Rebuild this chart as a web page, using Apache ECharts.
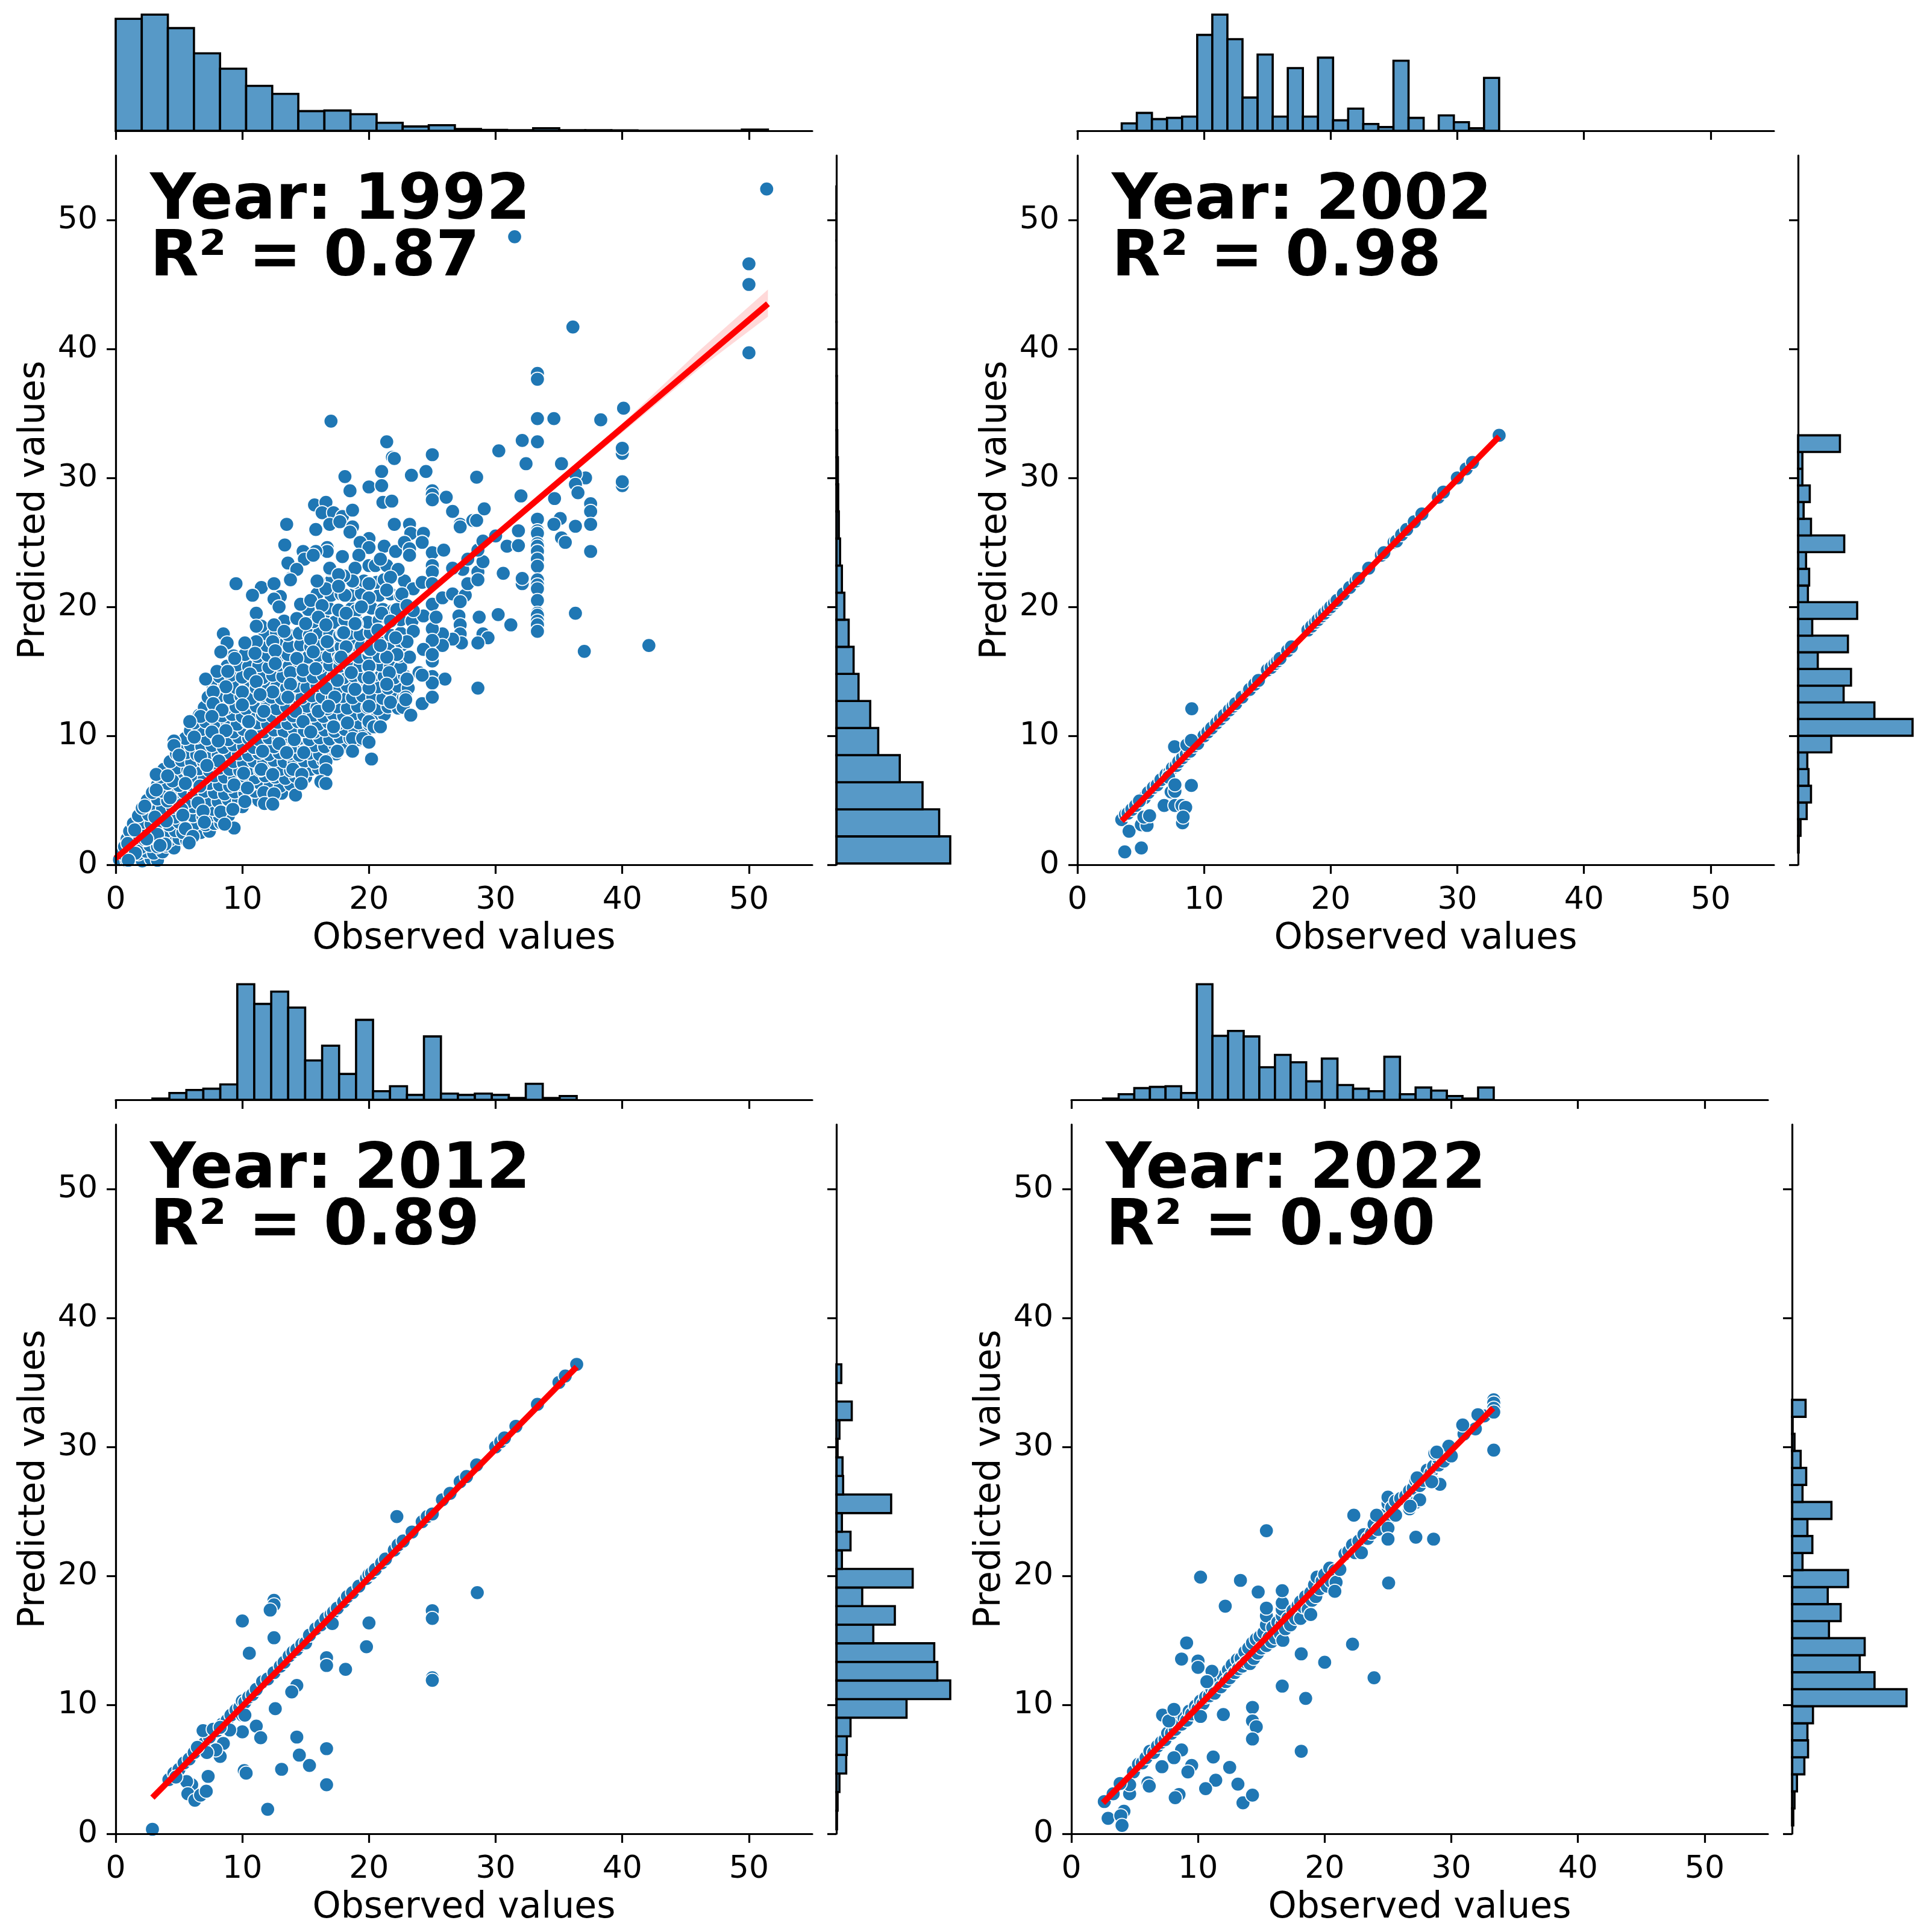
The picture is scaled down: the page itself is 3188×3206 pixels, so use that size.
<!DOCTYPE html>
<html><head><meta charset="utf-8">
<style>html,body{margin:0;padding:0;background:#fff}#c{width:3188px;height:3206px}</style>
<script src="https://cdn.jsdelivr.net/npm/echarts@6/dist/echarts.min.js"></script>
</head><body><div id="c"></div>
<script>
const tickValues=[0,10,20,30,40,50];
const xLabel='Observed values', yLabel='Predicted values';
const years=['Year: 1992','Year: 2002','Year: 2012','Year: 2022'];
const r2s=['R² = 0.87','R² = 0.98','R² = 0.89','R² = 0.90'];

// top marginal histograms: first edge, bin width, bar heights
const topStart=[0.0,3.5,2.9,2.5], topWidth=[2.06,1.192,1.34,1.234];
const top1992=[182,189,167,126,101,73,60,32,33,27,13,7,9,3,1.5,1,4,1,1,0.7,0.3,0.3,0.3,0.3,2];
const top2002=[12,29,19,21,23,156,189,149,54,124,23,102,23,119,17,36,11,6,114,21,0,25,14,4,86];
const top2012=[2,11,16,18,25,188,156,176,150,64,88,42,130,14,22,8,103,10,8,10,8,3,26,3,6];
const top2022=[2,9,19,21,22,11,188,104,112,103,53,73,61,30,67,24,18,14,70,9,20,15,6,2,20];
// right marginal histograms (bottom bin first)
const rightStart=[0.1,0.95,0.35,0.65], rightWidth=[2.1,1.294,1.442,1.32];
const right1992=[185,167,140,103,68,55,36,28,20,13,9,6,4,3,2.5,1.5,1,0.8,0.5,0.4,0.3,0.2,0.2,0.1,0.2];
const right2002=[1,4,14,21,17,15,54,186,124,74,86,32,81,23,96,16,18,13,75,21,9,19,7,7,68];
const right2012=[1,2,5,16,17,23,114,185,164,159,60,95,42,124,9,23,9,89,11,10,2,5,25,0,8];
const right2022=[2,4,8,20,26,25,34,186,134,110,118,60,79,58,91,17,33,25,64,17,23,14,4,1,22];

// regression lines and confidence band
const line1992=[[0,0.5],[51.5,43.5]], line2002=[[3.5,3.4],[33.3,33.2]], line2012=[[2.9,2.8],[36.4,36.2]], line2022=[[2.5,2.4],[33.3,33]];
const band1992=[[0,0.3,0.7],[10,8.75,8.95],[20,17.1,17.3],[30,25.35,25.75],[40,33.5,34.2],[46,38.4,39.8],[51.5,42.5,44.6]];

// dense body of the 1992 cloud (estimated)
const cloud1992=[
[.3,.4],[.9,.3],[1.5,.5],[2.1,.3],[2.8,.45],[3.3,.35],[.5,.9],[1.1,1],[1.8,.85],[2.4,1.05],[3,.9],[3.7,1],
[.7,1.4],[1.3,1.5],[2,1.35],[2.7,1.5],[3.3,1.4],[4,1.45],[4.6,1.3],[.9,2],[1.6,2.1],[2.3,1.95],[3,2.1],[3.6,2],[4.3,1.95],[5,2.05],[5.6,1.9],
[1.1,2.6],[1.9,2.7],[2.5,2.55],[3.3,2.7],[4,2.6],[4.7,2.65],[5.3,2.5],[6,2.6],[6.7,2.5],[7.4,2.6],
[1.4,3.2],[2.2,3.3],[2.8,3.15],[3.6,3.25],[4.2,3.1],[5,3.3],[5.7,3.15],[6.3,3.2],[7.1,3.1],[7.8,3.2],[8.3,3.25],
[1.8,3.8],[2.6,3.9],[3.3,3.75],[4.1,3.85],[4.7,3.7],[5.5,3.9],[6.1,3.8],[6.9,3.7],[7.5,3.85],[8.2,3.75],[8.9,3.8],
[2.1,4.4],[2.9,4.5],[3.7,4.35],[4.5,4.45],[5.3,4.3],[6.1,4.5],[6.9,4.4],[7.7,4.3],[8.5,4.45],[9.3,4.35],[10,4.5],
[2.5,5],[3.3,5.1],[4.1,4.95],[4.9,5.05],[5.7,4.9],[6.5,5.1],[7.3,5],[8.1,4.9],[8.9,5.05],[9.7,4.95],[10.5,5.1],[11.3,5],[12,5.1],
[2.9,5.6],[3.7,5.7],[4.6,5.55],[5.4,5.65],[6.2,5.5],[7,5.7],[7.8,5.6],[8.6,5.5],[9.4,5.65],[10.2,5.55],[11,5.7],[11.8,5.6],[12.6,5.7],[13.1,5.55],
[3.3,6.2],[4.1,6.3],[5,6.15],[5.8,6.25],[6.6,6.1],[7.4,6.3],[8.2,6.2],[9,6.1],[9.8,6.25],[10.6,6.15],[11.4,6.3],[12.2,6.2],[13,6.1],[13.8,6.25],
[3.5,6.8],[4.4,6.9],[5.3,6.75],[6.2,6.85],[7,6.7],[7.8,6.9],[8.6,6.8],[9.4,6.7],[10.2,6.85],[11,6.75],[11.8,6.9],[12.6,6.8],[13.4,6.7],[14.2,6.85],[15,6.8],
[3.8,7.4],[4.8,7.5],[5.7,7.35],[6.6,7.45],[7.4,7.3],[8.2,7.5],[9,7.4],[9.8,7.3],[10.6,7.45],[11.4,7.35],[12.2,7.5],[13,7.4],[13.8,7.3],[14.6,7.45],[15.4,7.4],[16,7.5],
[4.3,8],[5.2,8.1],[6,7.95],[6.9,8.05],[7.7,7.9],[8.5,8.1],[9.3,8],[10.1,7.9],[10.9,8.05],[11.7,7.95],[12.5,8.1],[13.3,8],[14.1,7.9],[14.9,8.05],[15.7,7.95],[16.4,8.1],
[4.8,8.6],[5.6,8.7],[6.4,8.55],[7.3,8.65],[8.1,8.5],[8.9,8.7],[9.7,8.6],[10.5,8.5],[11.3,8.65],[12.1,8.55],[12.9,8.7],[13.7,8.6],[14.5,8.5],[15.3,8.65],[16.1,8.55],[16.9,8.7],[17.4,8.6],
[5,9.2],[5.9,9.3],[6.8,9.15],[7.6,9.25],[8.5,9.1],[9.3,9.3],[10.1,9.2],[10.9,9.1],[11.7,9.25],[12.5,9.15],[13.3,9.3],[14.1,9.2],[14.9,9.1],[15.7,9.25],[16.5,9.15],[17.3,9.3],[18.1,9.2],
[5.5,9.8],[6.4,9.9],[7.2,9.75],[8,9.85],[8.9,9.7],[9.7,9.9],[10.5,9.8],[11.3,9.7],[12.1,9.85],[12.9,9.75],[13.7,9.9],[14.5,9.8],[15.3,9.7],[16.1,9.85],[16.9,9.75],[17.7,9.9],[18.5,9.8],[19.3,9.7],
[5.9,10.4],[6.8,10.5],[7.6,10.35],[8.4,10.45],[9.3,10.3],[10.1,10.5],[10.9,10.4],[11.7,10.3],[12.5,10.45],[13.3,10.35],[14.1,10.5],[14.9,10.4],[15.7,10.3],[16.5,10.45],[17.3,10.35],[18.1,10.5],[18.9,10.4],[19.7,10.3],
[6.2,11],[7.1,11.1],[8,10.95],[8.8,11.05],[9.6,10.9],[10.4,11.1],[11.2,11],[12,10.9],[12.8,11.05],[13.6,10.95],[14.4,11.1],[15.2,11],[16,10.9],[16.8,11.05],[17.6,10.95],[18.4,11.1],[19.2,11],[20,10.9],[20.8,11.05],
[6.6,11.6],[7.5,11.7],[8.4,11.55],[9.2,11.65],[10,11.5],[10.8,11.7],[11.6,11.6],[12.4,11.5],[13.2,11.65],[14,11.55],[14.8,11.7],[15.6,11.6],[16.4,11.5],[17.2,11.65],[18,11.55],[18.8,11.7],[19.6,11.6],[20.4,11.5],[21.2,11.65],
[7,12.2],[7.8,12.3],[8.7,12.15],[9.5,12.25],[10.3,12.1],[11.1,12.3],[11.9,12.2],[12.7,12.1],[13.5,12.25],[14.3,12.15],[15.1,12.3],[15.9,12.2],[16.7,12.1],[17.5,12.25],[18.3,12.15],[19.1,12.3],[19.9,12.2],[20.7,12.1],[21.5,12.25],[22.3,12.15],
[7.3,13],[8.2,13.1],[9,12.95],[9.9,13.05],[10.7,12.9],[11.5,13.1],[12.3,13],[13.1,12.9],[13.9,13.05],[14.7,12.95],[15.5,13.1],[16.3,13],[17.1,12.9],[17.9,13.05],[18.7,12.95],[19.5,13.1],[20.3,13],[21.1,12.9],[21.9,13.05],[22.7,12.9],
[7.7,13.8],[8.6,13.9],[9.5,13.75],[10.3,13.85],[11.1,13.7],[11.9,13.9],[12.7,13.8],[13.5,13.7],[14.3,13.85],[15.1,13.75],[15.9,13.9],[16.7,13.8],[17.5,13.7],[18.3,13.85],[19.1,13.75],[19.9,13.9],[20.7,13.8],[21.5,13.7],[22.3,13.85],[23.1,13.7],
[8.2,14.6],[9.1,14.7],[10,14.55],[10.8,14.65],[11.6,14.5],[12.4,14.7],[13.2,14.6],[14,14.5],[14.8,14.65],[15.6,14.55],[16.4,14.7],[17.2,14.6],[18,14.5],[18.8,14.65],[19.6,14.55],[20.4,14.7],[21.2,14.6],[22,14.5],[22.8,14.65],
[8.8,15.4],[9.6,15.5],[10.5,15.35],[11.3,15.45],[12.1,15.3],[12.9,15.5],[13.7,15.4],[14.5,15.3],[15.3,15.45],[16.1,15.35],[16.9,15.5],[17.7,15.4],[18.5,15.3],[19.3,15.45],[20.1,15.35],[20.9,15.5],[21.7,15.4],[22.5,15.3],
[9.3,16.2],[10.2,16.3],[11.2,16.15],[12,16.25],[12.8,16.1],[13.6,16.3],[14.4,16.2],[15.2,16.1],[16,16.25],[16.8,16.15],[17.6,16.3],[18.4,16.2],[19.2,16.1],[20,16.25],[20.8,16.15],[21.6,16.3],[22.4,16.2],[23.2,16.1],
[11.9,17],[12.8,17.1],[13.7,16.95],[14.6,17.05],[15.4,16.9],[16.2,17.1],[17,17],[17.8,16.9],[18.6,17.05],[19.4,16.95],[20.2,17.1],[21,17],[21.8,16.9],[22.6,17.05],
[11.8,17.9],[12.7,18],[13.6,17.85],[14.5,17.95],[15.3,17.8],[16.1,18],[16.9,17.9],[17.7,17.8],[18.5,17.95],[19.3,17.85],[20.1,18],[20.9,17.9],[21.7,17.8],[22.5,17.95],
[13.3,18.9],[14.7,19],[15.6,18.85],[16.5,18.95],[17.3,18.8],[18.1,19],[19,18.9],[19.9,18.8],[20.8,18.95],[21.6,18.85],[22.5,19],[23.4,18.9],
[15.2,19.8],[16.8,19.9],[17.6,19.75],[18.6,19.85],[19,19.7],[20.2,19.9],[21.1,19.8],[21.9,19.7],[22.8,19.85],
[15.9,21],[17,20.9],[17.8,21],[18.6,20.9],[19.4,21.05],[20.8,20.9],[21.7,21],[22.5,20.85],
[17,22],[18.9,21.9],[19.6,22],[20.6,21.9],[21.2,22.1],[22.8,22]];

// individually readable 1992 markers
const points1992=[
[9.5,21.8],[11.5,21.5],[12.5,21.8],[10.8,20.9],[13,20.8],[12.5,20.6],[12.9,20],[13.8,22.2],[14.3,22.9],[11.1,19.5],[14.6,20.2],[15.4,20.5],[16,22],[16.6,21.4],[16.9,22.9],[16.3,20.1],[18.1,20.9],[18.7,22],[18.1,22.4],[20,21.8],[21.7,22.3],[21.4,21.3],[20,20.7],[19.4,20],[18.2,19.5],[16,19.2],[14.3,19.1],[11.5,18.5],[12.5,18.6],[11.1,18.5],[13.3,18.1],[15,18.7],[16.6,18.6],[19,18.7],[17.9,18],[15.4,17.5],[8.5,17.9],[8.8,17.2],[12.4,17.3],[11.1,17.3],[10.2,17.2],[16.7,17.3],[18.2,16.8],[20.8,18.2],[22.2,19.8],[22.5,17.3],[8.3,16.5],[11,16.4],[12.6,16.6],[15.6,16.5],[9.4,16],[14.3,16],[17.7,16],[20,16.7],[21.4,16.1],[22.2,16.3],[12.6,15.6],[8,15],[8.85,15],[13.8,14.9],[14.8,15.1],[15.8,15.2],[20,15.3],[7.1,14.4],[10.6,14.8],[11.1,14.2],[18.6,14.9],[21.6,14.9],[21.4,14],[23,14.4],[17.5,14.3],[12.4,13.4],[8.7,13.8],[10,13.4],[13.8,14],[16.6,13.7],[18.9,13.6],[20,13.7],[7.7,13.4],[11.4,13.2],[13.6,13],[17.3,13],[21.7,12.6],[22.9,13],[22.7,12.2],[7.7,12.5],[8.4,12],[10,12.4],[11.7,11.9],[14.2,11.9],[16,11.9],[16.8,12.3],[20,12.3],[18.3,11],[6.7,11.5],[5.85,11.1],[7.6,11.5],[10.5,11.1],[14.8,11.1],[20,11.1],[20.4,10.7],[20.9,10.7],[17.2,10.7],[8.7,10.4],[7.6,10.3],[6.2,9.9],[10.7,10],[15.4,10.3],[8.1,9.6],[4.6,9.6],[4.6,9.25],[14.1,9.7],[12.9,9.4],[18.7,9.8],[19.5,9.8],[20,9.5],[18.7,8.8],[17.5,8.8],[20.2,8.2],[16.6,8],[16.6,7.35],[11.6,8.8],[13.5,8.7],[14.85,8.7],[6.7,8.4],[5,8.5],[8.15,8.05],[7.2,7.7],[5.85,7.2],[4.5,6.5],[3.2,7],[4.1,6.9],[11.5,7.4],[12.4,7],[14,7.4],[14.7,7],[16.2,6.45],[16.6,6.3],[14.2,5.4],[14.65,6.3],[10.1,7.1],[9.35,6.2],[10.4,5.95],[5.5,6.3],[3.2,5.8],[6.65,6.1],[4.3,5.2],[6.5,4.8],[11.7,5.6],[12.5,5.5],[11.75,4.75],[12.4,4.7],[10.2,4.9],[2.3,4.55],[3.1,3.7],[5.2,4.3],[4,3.4],[5.3,3.85],[6.9,4.15],[8.3,4.1],[9.25,4.3],[7,3.3],[9.35,2.85],[8.6,3.15],[5.5,2.8],[3.3,2.35],[1.5,2.7],[6.1,2.2],[5.8,1.7],[3.9,1.6],[3.5,1.5],[.95,1.65],[1.55,.9],[1,.35],[2.45,2],
[17,34.4],[21.4,32.8],[21.85,31.6],[22,31.5],[25,31.8],[18.1,30.1],[21,30.5],[23.35,30.2],[24.5,30.5],[20,29.3],[21,29.4],[18.5,29],[28.5,30.05],[30.25,32.1],[32.1,32.9],[33.3,34.6],[33.3,32.8],[32.4,31.1],[25,29],[25,28.7],[25,28.3],[26.1,28.5],[26.6,27.4],[27.2,26.4],[27.2,26.2],[28.2,26.7],[28.5,26.7],[29.1,27.6],[32,28.6],[21.1,28.1],[21.8,28.2],[15.7,27.9],[16.6,28.1],[16.3,27.3],[17.2,27.3],[17.9,27],[18.7,27.5],[16.9,26.4],[17.7,26.6],[13.5,26.4],[15.8,26],[18.7,26.2],[18.5,25.8],[22,26.4],[23.2,26.4],[23.3,25.7],[24.3,25.7],[20,25.3],[19.3,25],[20,24.6],[21.2,24.7],[13.35,24.8],[16.7,24.6],[16.7,24.3],[15.8,24.3],[14.8,24.3],[14.9,23.7],[15.6,24],[17.9,23.9],[19.2,24],[22.1,24.3],[22.8,25],[23.2,24.5],[23.2,24],[24.2,25],[25,24.2],[25.9,24.4],[25,23.2],[25,22.7],[13.6,23.4],[14.3,22.9],[13.8,22.1],[16.9,23],[18.9,23],[20,23.2],[20.5,23.2],[21.4,23.2],[22.3,22.9],[20.9,23.7],[21.7,22.3],[18.7,22],[18,22.4],[17.6,22.5],[15.9,22],[17.6,21.6],[21.4,21.3],[23.5,21.4],[22.6,21],[24.2,21.9],[25,21.8],[25,20.2],[25.8,20.7],[26.6,21],[27.6,20.9],[27.2,20.4],[27.8,21.8],[28.6,22.7],[28.6,22.1],[29,23.5],[27.4,22.9],[26.6,23],[27.8,23.7],[28.6,24.4],[29,25.1],[30,25.5],[30.9,24.7],[31.8,24.75],[31.8,25.9],[30.6,22.6],[32.1,21.8],[32.1,22.2],
[33.3,38.1],[33.3,37.65],[34.6,34.6],[38.3,34.5],[40.1,35.4],[35.2,31.1],[40,31.9],[40,32.3],[37.1,30],[36.3,30.3],[36.3,29.5],[36.5,28.85],[34.65,28.4],[40,29.4],[40,29.7],[37.5,28],[37.5,27.4],[37.5,26.4],[35.1,26.85],[34.6,26.4],[36.3,26.25],[35.2,25.35],[35.5,25],[37.5,24.3],[33.3,26.8],[33.3,25.9],[33.3,25.7],[33.3,24.9],[33.3,24.7],[33.3,24.3],[33.3,23.7],[33.3,23.15],[33.3,22.1],[33.3,21.7],[33.3,21.4],[33.3,20.5],[33.3,19.5],[33.3,19.35],[33.3,18.9],[33.3,18.6],[33.3,18.1],[36.3,19.5],[37,16.55],[42.1,17],[30.2,19.4],[31.2,18.6],[28.7,19.2],[27.1,19.3],[27.2,18.6],[27.2,17.9],[27.3,17.2],[26.6,17.5],[25.8,17.9],[25.8,17],[29,17.9],[29.4,17.6],[28.6,17.2],[25,18.3],[25,17.4],[23.5,18.1],[24.3,19.3],[25.3,19.2],[23,17.3],[22.1,17.6],[24.3,16.7],[25,15.8],[25,14.6],[23.95,14.9],[26,14.4],[23,14.4],[28.6,13.7],[22.2,16.3],[21.4,16.1],[20,15.4],[20,14.5],[18.9,18.7],[18,18],[16.7,17.3],[18.2,16.9],[17.8,16.1],[21,19.5],[22.2,19.8],[21.7,18.9],[23.5,19.7],[23,20.1],[20.7,18.2],[20.1,16.7],[20.9,17],[23.3,11.6],[22.9,12.8],[24.2,12.5],[25,13],[25,14.1],[24.2,14.7],[25,16.3],
[51.4,52.4],[31.5,48.7],[50,46.6],[50,45],[50,39.7],[36.1,41.7]];

const onLine2002=[[3.5,3.5],[3.8,3.9],[4,4],[4.3,4.3],[4.6,4.6],[5,5],[5.3,5.2],[5.6,5.6],[6,6],[6.3,6.2],[6.6,6.6],[7,7],[7.3,7.2],[7.5,7.5],[7.8,7.7],[8,8],[8.3,8.3],[8.6,8.6],[8.9,8.8],[9.2,9.2],[9.5,9.4],[10,10],[10.3,10.3],[10.6,10.6],[11,11],[11.3,11.3],[11.6,11.6],[12,12],[12.3,12.3],[12.5,12.5],[13,13],[13.5,13.5],[13.6,13.6],[14,14],[14.3,14.3],[15,15.1],[15.3,15.3],[15.6,15.6],[15.8,15.8],[16,16],[16.6,16.6],[16.9,16.9],[18.2,18.2],[18.5,18.5],[18.8,18.8],[19,19],[19.3,19.3],[19.5,19.5],[19.8,19.8],[20,20],[20.3,20.3],[20.5,20.5],[21,21],[21.5,21.5],[22,22],[22.2,22.2],[23,23],[24,24],[24.2,24.2],[25,25],[25.2,25.1],[25.6,25.6],[26,26],[26.6,26.6],[27.2,27.2],[28.5,28.5],[28.9,28.9],[30,30],[30.7,30.7],[31.2,31.2],[33.3,33.3]];
const off2002=[[9.03,12.1],[7.67,9.15],[8.64,9.3],[9,9.65],[9,6.15],[7.2,6.8],[7.4,5.65],[7.7,5.7],[7.7,6.2],[6.85,4.6],[7.7,4.6],[8.25,4.6],[8.55,4.45],[8.3,3.25],[8.35,3.7],[4.08,2.6],[3.74,1],[5.05,1.3],[5.05,3.1],[5.5,3.05],[5.25,3.7],[5.7,3.8],[4.9,4.95]];

const onLine2012=[[4.2,4.2],[4.6,4.7],[5,5],[5.4,5.5],[5.8,5.8],[6.2,6.3],[6.6,6.7],[7,7],[7.4,7.5],[8,8],[8.4,8.5],[8.8,8.8],[9.1,9.2],[9.5,9.6],[9.8,9.8],[10,10.3],[10.2,10.2],[10.5,10.6],[10.8,10.8],[11.1,11.2],[11.6,11.8],[12,12],[12.5,12.5],[13,13],[13.3,13.3],[13.7,13.8],[14,14.1],[14.3,14.3],[14.7,14.7],[15,14.8],[15.3,15.4],[15.8,15.9],[16.2,16.2],[16.6,16.7],[17,17],[17.2,17.2],[17.5,17.5],[18,18],[18.3,18.4],[18.7,18.7],[19.2,19.2],[19.8,19.8],[20,20.1],[20.2,20.2],[20.5,20.5],[21,21],[21.3,21.3],[22,22],[22.3,22.4],[22.7,22.7],[23.4,23.4],[24.2,24.2],[24.6,24.6],[25,24.8],[25.8,25.9],[26.4,26.4],[27.2,27.3],[27.7,27.7],[28.5,28.6],[30,30],[30.4,30.4],[30.7,30.7],[31.6,31.6],[33.3,33.3],[35,35],[35.5,35.5],[36.4,36.4]];
const off2012=[[2.9,.35],[10,16.5],[10.55,14],[12.5,18.1],[12.5,17.75],[12.2,17.35],[12.5,15.2],[12.6,9.7],[14.3,11.5],[13.9,11],[10,9.2],[10.2,9.2],[10,7.9],[11.1,8.35],[11.45,7.45],[14.3,7.5],[14.5,6.1],[13.1,5],[15.3,5.3],[10.15,4.9],[10.3,4.7],[16.65,6.6],[16.65,3.8],[12,1.9],[16.65,13.65],[16.65,13.05],[17.1,16.3],[18.15,12.75],[20,16.35],[19.8,14.5],[25,17.3],[25,16.7],[25,12.1],[25,11.9],[28.55,18.7],[22.2,24.6],[6.9,8],[7.7,8.1],[9,8.05],[8.25,8.25],[8.5,7],[8.25,6],[7.9,6.5],[7.2,6.3],[7.3,4.45],[6.45,6.7],[6,3.8],[5.6,4.05],[5.7,3.1],[6.25,2.6],[6.7,3],[7.15,3.3],[4.75,4.4]];

const near2022=[[4.9,4.8],[5.3,5.4],[5.6,5.5],[5.9,5.9],[6.2,6.4],[6.5,6.3],[6.8,6.8],[7.1,7.1],[7.4,7.3],[7.6,7.8],[7.9,7.8],[8.2,8.1],[8.4,8.6],[8.7,8.5],[8.9,9],[9.1,8.8],[9.3,9.5],[9.5,9.3],[9.8,9.9],[10,9.7],[10.2,10.3],[10.4,10.1],[10.6,10.6],[10.9,10.7],[11.1,11.2],[11.3,10.9],[11.6,11.7],[11.8,11.4],[12,12.2],[12.2,11.8],[12.4,12.7],[12.5,12.1],[12.7,13.1],[12.9,12.5],[13.1,13.5],[13.2,12.8],[13.4,13.6],[13.5,13],[13.7,14.1],[13.8,13.3],[14,14.4],[14.1,13.2],[14.3,14.8],[14.4,13.6],[14.6,15.1],[14.7,14],[14.9,15.3],[15,14.4],[15.2,15.6],[15.4,14.6],[15.4,16.2],[15.4,16.9],[15.6,15.2],[15.8,14.9],[15.9,16],[16.1,15.2],[16.3,16.4],[16.5,15.5],[16.65,16.3],[16.65,16.9],[16.65,17.4],[16.65,17.9],[16.7,15],[16.9,15.9],[17.1,16.7],[17.3,16.2],[17.5,17.3],[17.7,16.7],[17.9,17.7],[18.1,16.7],[18.1,18],[18.3,17.6],[18.5,18.4],[18.7,17.4],[18.9,18.7],[19,18.1],[19.2,19.3],[19.3,18.4],[19.4,19.9],[19.6,19],[19.8,19.6],[20,20.1],[20.2,19.2],[20.4,20.6],[20.5,19.6],[20.8,20.4],[20.9,19.5],[21.2,20.5],[21.6,21.7],[21.9,21.9],[22.2,22.4],[22.4,21.8],[22.7,22.7],[22.9,21.8],[23.1,23.2],[23.4,22.9],[23.7,23.3],[23.9,24],[24.2,23.6],[24.5,24.4],[24.8,24.2],[25,25],[25,24.4],[25,23.7],[25,25.6],[25,26.1],[25.3,25.3],[25.6,25.8],[25.6,24.7],[26,26],[26.4,26.2],[26.7,26.6],[26.7,25.2],[27,26.8],[27.2,27.4],[27.2,25.7],[27.5,27],[27.8,27.4],[28.1,28.2],[28.4,28],[28.6,28.5],[28.6,27.3],[29,28.6],[29,29.1],[28.7,29.5],[29.4,28.9],[30,29.3],[31,31],[31.9,31.4],[32.6,32.4]];
const off2022=[[15.4,23.5],[10.2,19.9],[13.35,19.65],[14.75,18.75],[12.15,17.65],[9.1,14.8],[8.7,13.55],[10,13.4],[10,12.9],[11.1,12.6],[10.7,11.8],[16.65,11.45],[20,13.3],[18.15,13.95],[22.2,14.7],[23.9,12.1],[18.5,10.5],[14.3,9.8],[14.3,8.75],[14.6,8.3],[14.3,7.35],[12,9.25],[10.2,9.1],[18.15,6.4],[25.05,19.45],[27.2,23],[28.6,22.85],[25,22.85],[33.35,29.75],[30.9,31.7],[32.1,32.5],[22.3,24.7],[24.1,24.7],[11.2,5.95],[12.5,5.15],[11.4,4.15],[10.6,3.5],[13.15,3.85],[13.55,2.4],[14.3,3],[9.5,5.3],[9.2,4.8],[8.5,3.05],[8.2,2.8],[8.7,6.5],[8.1,5.9],[7.15,5.2],[6.05,3.95],[6.15,3.7],[4.6,3.1],[4.6,3.8],[2.9,1.2],[4.15,1.75],[3.9,1.4],[4,.65],[2.6,2.5],[3.3,3.1],[3.85,3.9],[7.2,9.2],[7.7,8.75],[8.1,9.65],[33.35,33.65],[33.35,33.4],[33.35,33],[33.35,32.7],[29.8,30.05],[28.85,29.6],[29.1,27.1],[28.45,27.3],[27.3,27.6],[27.5,25.9],[26.75,25.4],[18.9,17],[20.8,18.8],[16.65,18.85],[15.4,17.5]];

const GEO=[
 {x:192,y:258,rx:1388,hy:15},
 {x:1788,y:258,rx:2984,hy:15},
 {x:192,y:1866,rx:1388,hy:1623},
 {x:1778,y:1866,rx:2974,hy:1623}];
const W=1156,H=1177,FONT='DejaVu Sans';
const TOPS=[top1992,top2002,top2012,top2022], RIGHTS=[right1992,right2002,right2012,right2022];
const LINES=[line1992,line2002,line2012,line2022];
const SCAT=[cloud1992.concat(points1992),onLine2002.concat(off2002),onLine2012.concat(off2012),near2022.concat(off2022)];

const grid=[],xAxis=[],yAxis=[],series=[],graphic=[];
const tickStyle={show:true,length:15,inside:false,lineStyle:{color:'#000',width:3.2},customValues:tickValues};
const lineAx={show:true,onZero:false,lineStyle:{color:'#000',width:3.2}};
const barStyle={fill:'#5799c7',stroke:'#000',lineWidth:3.6};

function topBar(p,api){
  const a=api.coord([api.value(0),0]),b=api.coord([api.value(1),api.value(2)]);
  return {type:'rect',shape:{x:a[0],y:b[1],width:b[0]-a[0],height:a[1]-b[1]},style:barStyle};
}
function rightBar(p,api){
  const a=api.coord([0,api.value(0)]),b=api.coord([api.value(2),api.value(1)]);
  return {type:'rect',shape:{x:a[0],y:b[1],width:b[0]-a[0],height:a[1]-b[1]},style:barStyle};
}
GEO.forEach((g,i)=>{
  const m=grid.length;
  grid.push({left:g.x,top:g.y,width:W,height:H});
  grid.push({left:g.x,top:g.hy,width:W,height:202});
  grid.push({left:g.rx,top:g.y,width:199.5,height:H});
  const labX={show:true,color:'#000',fontFamily:FONT,fontSize:52,margin:33,customValues:tickValues,hideOverlap:false};
  const labY={show:true,color:'#000',fontFamily:FONT,fontSize:52,margin:30,padding:[6,0,0,0],customValues:tickValues,hideOverlap:false};
  const nm={color:'#000',fontFamily:FONT,fontSize:60};
  xAxis.push({gridIndex:m,type:'value',min:0,max:55,z:5,axisLine:lineAx,axisTick:tickStyle,axisLabel:labX,splitLine:{show:false},name:xLabel,nameLocation:'middle',nameGap:93,nameTextStyle:nm});
  yAxis.push({gridIndex:m,type:'value',min:0,max:55,z:5,axisLine:lineAx,axisTick:tickStyle,axisLabel:labY,splitLine:{show:false},name:yLabel,nameLocation:'middle',nameGap:105,nameRotate:90,nameTextStyle:nm});
  xAxis.push({gridIndex:m+1,type:'value',min:0,max:55,z:5,axisLine:lineAx,axisTick:tickStyle,axisLabel:{show:false},splitLine:{show:false}});
  yAxis.push({gridIndex:m+1,type:'value',min:0,max:198,show:false,splitLine:{show:false}});
  xAxis.push({gridIndex:m+2,type:'value',min:0,max:195.3,show:false,splitLine:{show:false}});
  yAxis.push({gridIndex:m+2,type:'value',min:0,max:55,z:5,axisLine:lineAx,axisTick:tickStyle,axisLabel:{show:false},splitLine:{show:false}});

  series.push({type:'scatter',xAxisIndex:m,yAxisIndex:m,data:SCAT[i],symbol:'circle',symbolSize:23.5,itemStyle:{color:'#1f77b4',borderColor:'#fff',borderWidth:1.8,opacity:1},silent:true,animation:false,clip:true,z:2,progressive:0});
  if(i===0){
    series.push({type:'custom',xAxisIndex:m,yAxisIndex:m,data:band1992,z:3,silent:true,encode:{x:0,y:[1,2]},
      renderItem(p,api){
        const k=p.dataIndex; if(k>=band1992.length-1) return null;
        const n=band1992[k+1];
        return {type:'polygon',shape:{points:[api.coord([api.value(0),api.value(1)]),api.coord([n[0],n[1]]),api.coord([n[0],n[2]]),api.coord([api.value(0),api.value(2)])]},style:{fill:'rgba(255,0,0,0.15)'}};
      }});
  }
  series.push({type:'line',xAxisIndex:m,yAxisIndex:m,data:LINES[i],symbol:'none',lineStyle:{color:'#ff0000',width:10},silent:true,animation:false,z:4});
  const sT=TOPS[i].map((c,k)=>[topStart[i]+k*topWidth[i],topStart[i]+(k+1)*topWidth[i],c]);
  series.push({type:'custom',xAxisIndex:m+1,yAxisIndex:m+1,data:sT,encode:{x:[0,1],y:2},renderItem:topBar,silent:true,animation:false,z:2});
  const sR=RIGHTS[i].map((c,k)=>[rightStart[i]+k*rightWidth[i],rightStart[i]+(k+1)*rightWidth[i],c]);
  series.push({type:'custom',xAxisIndex:m+2,yAxisIndex:m+2,data:sR,encode:{x:2,y:[0,1]},renderItem:rightBar,silent:true,animation:false,z:2});

  const tf='700 105px "'+FONT+'"';
  graphic.push({type:'text',left:g.x+57,top:g.y+25,silent:true,z:10,style:{text:years[i],font:tf,fill:'#000'}});
  graphic.push({type:'text',left:g.x+57,top:g.y+119,silent:true,z:10,style:{text:r2s[i],font:tf,fill:'#000'}});
});
const chart=echarts.init(document.getElementById('c'),null,{renderer:'canvas',width:3188,height:3206});
chart.setOption({animation:false,backgroundColor:'#fff',grid,xAxis,yAxis,series,graphic,tooltip:{show:false}});
</script></body></html>
